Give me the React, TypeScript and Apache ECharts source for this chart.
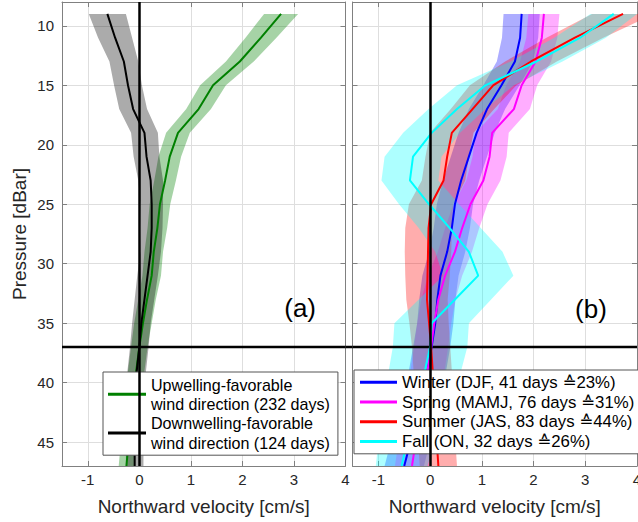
import React, { useEffect, useRef } from "react";
import * as echarts from "echarts";

// Pressure levels [dBar]
const P = [9, 11, 13, 15, 17, 19, 21, 23, 25, 27, 29, 31, 33, 35, 37, 39, 41, 43, 45, 47];

// Panel (a)
const upMean = [2.75, 2.36, 1.95, 1.43, 1.15, 0.75, 0.59, 0.5, 0.4, 0.35, 0.28, 0.24, 0.15, 0.07, 0.0, -0.06, -0.11, -0.16, -0.21, -0.25];
const upSd = [0.33, 0.3, 0.27, 0.25, 0.24, 0.23, 0.22, 0.21, 0.2, 0.19, 0.18, 0.18, 0.17, 0.17, 0.16, 0.16, 0.16, 0.15, 0.15, 0.15];
const downMean = [-0.62, -0.47, -0.3, -0.22, -0.12, 0.1, 0.14, 0.22, 0.24, 0.24, 0.22, 0.16, 0.1, 0.04, 0.0, -0.05, -0.07, -0.08, -0.09, -0.09];
const downSd = [0.36, 0.33, 0.28, 0.27, 0.27, 0.26, 0.25, 0.24, 0.22, 0.21, 0.2, 0.2, 0.19, 0.18, 0.18, 0.18, 0.17, 0.17, 0.17, 0.17];

// Panel (b)
const winterMean = [1.77, 1.74, 1.64, 1.38, 1.1, 0.9, 0.75, 0.6, 0.48, 0.42, 0.33, 0.2, 0.14, 0.1, 0.03, -0.05, -0.15, -0.25, -0.38, -0.5];
const winterSd = [0.35, 0.35, 0.35, 0.35, 0.35, 0.35, 0.35, 0.35, 0.35, 0.35, 0.35, 0.35, 0.35, 0.35, 0.36, 0.36, 0.37, 0.37, 0.38, 0.38];
const springMean = [2.2, 2.16, 2.04, 1.77, 1.62, 1.2, 1.15, 1.03, 0.78, 0.62, 0.48, 0.29, 0.16, 0.08, 0.02, -0.05, -0.12, -0.2, -0.28, -0.35];
const springSd = [0.3, 0.3, 0.3, 0.3, 0.31, 0.32, 0.33, 0.33, 0.33, 0.33, 0.33, 0.33, 0.33, 0.33, 0.33, 0.33, 0.33, 0.33, 0.33, 0.33];
const summerMean = [3.73, 2.8, 1.95, 1.22, 0.82, 0.42, 0.33, 0.26, 0.02, -0.03, -0.04, -0.05, -0.06, -0.02, 0.02, 0.05, 0.08, 0.1, 0.13, 0.16];
const summerSd = [0.6, 0.55, 0.5, 0.45, 0.42, 0.42, 0.42, 0.42, 0.43, 0.45, 0.45, 0.43, 0.4, 0.38, 0.37, 0.37, 0.36, 0.36, 0.36, 0.36];
const fallMean = [3.55, 2.9, 2.06, 1.07, 0.52, 0.03, -0.33, -0.39, -0.02, 0.38, 0.75, 0.93, 0.48, 0.03, 0.0, -0.1, -0.2, -0.3, -0.45, -0.55];
const fallSd = [0.45, 0.5, 0.5, 0.55, 0.55, 0.55, 0.55, 0.55, 0.58, 0.6, 0.65, 0.68, 0.7, 0.72, 0.72, 0.7, 0.65, 0.6, 0.55, 0.5];

const xTicks = [-1, 0, 1, 2, 3, 4];
const yTicks = [10, 15, 20, 25, 30, 35, 40, 45];
const X_MIN = -1.5;
const X_MAX = 4;
const Y_MIN = 8;
const Y_MAX = 47;
const DIVIDE_P = 37;

const upName = "Upwelling-favorable\nwind direction (232 days)";
const downName = "Downwelling-favorable\nwind direction (124 days)";
const winterName = "Winter (DJF, 41 days \u225923%)";
const springName = "Spring (MAMJ, 76 days \u225931%)";
const summerName = "Summer (JAS, 83 days \u225944%)";
const fallName = "Fall (ON, 32 days \u225926%)";

const FONT = "'Liberation Sans', 'DejaVu Sans', Arial, sans-serif";
const FRAME = "#808080";

function band(id: string, g: number, mean: number[], sd: number[], fill: string) {
  return {
    type: "custom",
    id,
    name: id,
    xAxisIndex: g * 2,
    yAxisIndex: g * 2,
    clip: true,
    silent: true,
    data: [[mean[0], P[0]]],
    renderItem: (_params: any, api: any) => {
      const left = P.map((p, i) => api.coord([mean[i] - sd[i], p]));
      const right = P.map((p, i) => api.coord([mean[i] + sd[i], p])).reverse();
      return {
        type: "polygon",
        shape: { points: left.concat(right) },
        style: { fill },
      };
    },
  };
}

function divider(id: string, g: number) {
  return {
    type: "custom",
    id,
    name: id,
    xAxisIndex: g * 2,
    yAxisIndex: g * 2,
    clip: true,
    silent: true,
    z: 3,
    data: [[0, DIVIDE_P]],
    renderItem: (_params: any, api: any) => {
      const a = api.coord([X_MIN, DIVIDE_P]);
      const b = api.coord([X_MAX, DIVIDE_P]);
      return {
        type: "line",
        shape: { x1: a[0], y1: a[1], x2: b[0], y2: b[1] },
        style: { stroke: "#000", lineWidth: 2.5 },
      };
    },
  };
}

function line(name: string, g: number, mean: number[], color: string, extra: any = {}) {
  return {
    type: "line",
    name,
    xAxisIndex: g * 2,
    yAxisIndex: g * 2,
    data: P.map((p, i) => [mean[i], p]),
    symbol: "none",
    color,
    lineStyle: { color, width: 2 },
    silent: true,
    ...extra,
  };
}

const zeroLine = {
  silent: true,
  symbol: ["none", "none"],
  label: { show: false },
  lineStyle: { color: "#000", width: 2.5, type: "solid" },
  data: [{ xAxis: 0 }],
};

function xAxes(g: number) {
  const common = {
    type: "value",
    gridIndex: g,
    min: X_MIN,
    max: X_MAX,
    axisLine: { show: true, onZero: false, lineStyle: { color: FRAME, width: 1 } },
    axisTick: { show: true, inside: true, length: 5, customValues: xTicks, lineStyle: { color: FRAME } },
  };
  return [
    {
      ...common,
      position: "bottom",
      name: "Northward velocity [cm/s]",
      nameLocation: "middle",
      nameGap: 31,
      nameTextStyle: { fontSize: 19, color: "#262626", fontFamily: FONT },
      axisLabel: { show: true, customValues: xTicks, margin: 6, fontSize: 15, color: "#262626", fontFamily: FONT },
      splitLine: { show: true, lineStyle: { color: "#dedede", width: 1 } },
    },
    {
      ...common,
      position: "top",
      axisLabel: { show: false },
      splitLine: { show: false },
    },
  ];
}

function yAxes(g: number) {
  const common = {
    type: "value",
    gridIndex: g,
    min: Y_MIN,
    max: Y_MAX,
    inverse: true,
    axisLine: { show: true, onZero: false, lineStyle: { color: FRAME, width: 1 } },
    axisTick: { show: true, inside: true, length: 5, customValues: yTicks, lineStyle: { color: FRAME } },
  };
  return [
    {
      ...common,
      position: "left",
      name: g === 0 ? "Pressure [dBar]" : "",
      nameLocation: "middle",
      nameGap: 33,
      nameTextStyle: { fontSize: 19, color: "#262626", fontFamily: FONT },
      axisLabel: { show: g === 0, customValues: yTicks, margin: 8, fontSize: 15, color: "#262626", fontFamily: FONT },
      splitLine: { show: true, lineStyle: { color: "#dedede", width: 1 } },
    },
    {
      ...common,
      position: "right",
      axisLabel: { show: false },
      splitLine: { show: false },
    },
  ];
}

export default function App() {
  const ref = useRef<HTMLDivElement>(null);

  useEffect(() => {
    if (!ref.current) return;
    const chart = echarts.init(ref.current, undefined, { renderer: "svg" });

    const option: any = {
      animation: false,
      textStyle: { fontFamily: FONT },
      grid: [
        { left: 62, right: 292.5, top: 2, bottom: 56, outerBoundsMode: "none" },
        { left: 352.5, right: 1, top: 2, bottom: 56, outerBoundsMode: "none" },
        // thin hidden grid spanning the gap between the panels (carries the 37 dBar line across)
        { left: 345.5, right: 285.5, top: 2, bottom: 56, outerBoundsMode: "none" },
      ],
      xAxis: [
        ...xAxes(0),
        ...xAxes(1),
        { type: "value", gridIndex: 2, min: 0, max: 1, show: false },
      ],
      yAxis: [
        ...yAxes(0),
        ...yAxes(1),
        { type: "value", gridIndex: 2, min: Y_MIN, max: Y_MAX, inverse: true, show: false },
      ],
      legend: [
        {
          data: [upName, downName],
          orient: "vertical",
          left: 103,
          top: 372,
          icon: "rect",
          itemWidth: 38,
          itemHeight: 3,
          itemGap: 0,
          selectedMode: false,
          backgroundColor: "#fff",
          borderColor: "#555",
          borderWidth: 1,
          borderRadius: 0,
          padding: [3, 8, 3, 5],
          textStyle: { fontSize: 16.1, color: "#000", fontFamily: FONT, lineHeight: 19.3 },
        },
        {
          data: [winterName, springName, summerName, fallName],
          orient: "vertical",
          left: 354,
          top: 370,
          icon: "rect",
          itemWidth: 37,
          itemHeight: 3,
          itemGap: 0,
          selectedMode: false,
          backgroundColor: "#fff",
          borderColor: "#555",
          borderWidth: 1,
          borderRadius: 0,
          padding: [2.5, 7, 2.5, 6],
          textStyle: { fontSize: 16.8, color: "#000", fontFamily: FONT, lineHeight: 19.7 },
        },
      ],
      series: [
        band("upBand", 0, upMean, upSd, "rgba(0,128,0,0.35)"),
        line(upName, 0, upMean, "#008000"),
        band("downBand", 0, downMean, downSd, "rgba(0,0,0,0.33)"),
        line(downName, 0, downMean, "#000000", { markLine: zeroLine }),
        divider("dividerA", 0),

        band("winterBand", 1, winterMean, winterSd, "rgba(0,0,255,0.32)"),
        line(winterName, 1, winterMean, "#0000ff"),
        band("springBand", 1, springMean, springSd, "rgba(255,0,255,0.32)"),
        line(springName, 1, springMean, "#ff00ff"),
        band("summerBand", 1, summerMean, summerSd, "rgba(255,0,0,0.32)"),
        line(summerName, 1, summerMean, "#ff0000"),
        band("fallBand", 1, fallMean, fallSd, "rgba(0,255,255,0.32)"),
        line(fallName, 1, fallMean, "#00ffff", { markLine: zeroLine }),
        divider("dividerB", 1),

        {
          type: "line",
          id: "divideBridge",
          xAxisIndex: 4,
          yAxisIndex: 4,
          data: [
            [0, DIVIDE_P],
            [1, DIVIDE_P],
          ],
          symbol: "none",
          silent: true,
          lineStyle: { color: "#000", width: 2.5 },
        },
      ],
    };

    chart.setOption(option);

    const la = chart.convertToPixel({ gridIndex: 0 } as any, [3.12, 33.7]) as number[];
    const lb = chart.convertToPixel({ gridIndex: 1 } as any, [3.11, 33.8]) as number[];

    chart.setOption({
      graphic: [
        {
          type: "text",
          z: 3,
          x: la[0],
          y: la[1],
          style: { text: "(a)", fontSize: 26, fill: "#000", fontFamily: FONT, textAlign: "center", textVerticalAlign: "middle" },
        },
        {
          type: "text",
          z: 3,
          x: lb[0],
          y: lb[1],
          style: { text: "(b)", fontSize: 26, fill: "#000", fontFamily: FONT, textAlign: "center", textVerticalAlign: "middle" },
        },
      ],
    });

    return () => chart.dispose();
  }, []);

  return (
    <div
      ref={ref}
      style={{ position: "absolute", left: 0, top: 0, width: 638, height: 522, background: "#fff" }}
    />
  );
}
